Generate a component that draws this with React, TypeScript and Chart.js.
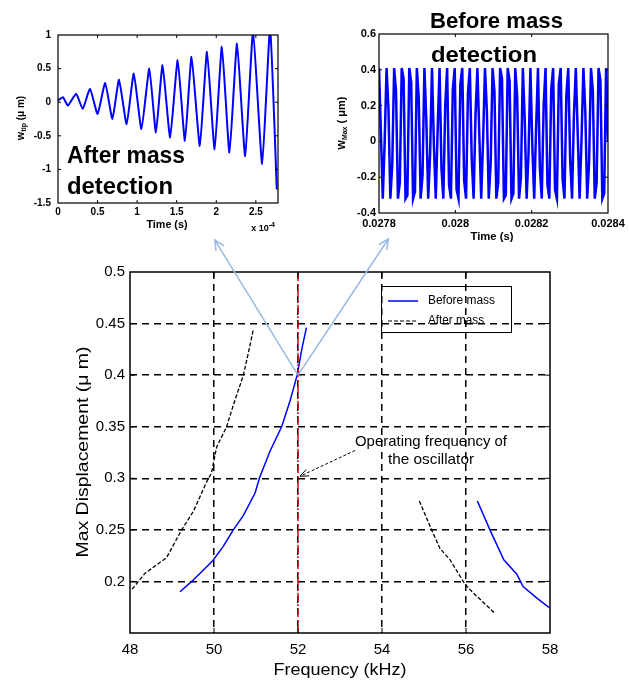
import React, { useEffect, useRef } from 'react';
import { Chart, registerables } from 'chart.js';

Chart.register(...registerables);

const FONT = '"Liberation Sans", Arial, sans-serif';

// ---------------- Main chart: Max displacement vs frequency ----------------
const FREQ_TICKS = [48, 50, 52, 54, 56, 58];
const FREQ_TICK_LABELS = ['48', '50', '52', '54', '56', '58'];
const DISP_TICKS = [0.15, 0.2, 0.25, 0.3, 0.35, 0.4, 0.45, 0.5];
const DISP_TICK_LABELS = ['', '0.2', '0.25', '0.3', '0.35', '0.4', '0.45', '0.5'];

const BEFORE_LEFT_FREQ = [49.19, 49.47, 49.97, 50.22, 50.46, 50.7, 50.98, 51.08, 51.33, 51.61, 51.81, 51.98, 52.09, 52.2];
const BEFORE_LEFT_DISP = [0.19, 0.2, 0.22, 0.234, 0.25, 0.264, 0.286, 0.3, 0.326, 0.35, 0.375, 0.4, 0.425, 0.446];
const BEFORE_RIGHT_FREQ = [56.27, 56.57, 56.9, 57.21, 57.36, 57.68, 58.0];
const BEFORE_RIGHT_DISP = [0.278, 0.25, 0.221, 0.207, 0.195, 0.184, 0.174];

const AFTER_LEFT_FREQ = [48.05, 48.36, 48.87, 49.23, 49.51, 49.83, 49.94, 50.06, 50.3, 50.46, 50.7, 50.82, 50.94];
const AFTER_LEFT_DISP = [0.1925, 0.208, 0.223, 0.25, 0.268, 0.297, 0.305, 0.33, 0.35, 0.371, 0.4, 0.422, 0.445];
const AFTER_RIGHT_FREQ = [54.89, 55.18, 55.38, 55.62, 55.98, 56.17, 56.69];
const AFTER_RIGHT_DISP = [0.278, 0.25, 0.232, 0.221, 0.197, 0.189, 0.169];

const OPERATING_FREQ = [52, 52];
const OPERATING_DISP = [0.15, 0.5];

const SERIES_NAMES = ['Before mass', 'After mass'];
const NOTE_LINES = ['Operating frequency of', 'the oscillator'];
const NOTE_ARROW_FROM = { x: 53.36, y: 0.327 };
const NOTE_ARROW_TO = { x: 52.05, y: 0.302 };
const CALLOUT_ORIGIN = { x: 52, y: 0.4 };
const CALLOUT_LEFT = { x: 50.02, y: 0.531 };
const CALLOUT_RIGHT = { x: 54.15, y: 0.532 };

// ---------------- Left inset: after mass detection ----------------
const LEFT_TIME = [0, 0.0625, 0.125, 0.229, 0.3125, 0.404, 0.5, 0.596, 0.6875, 0.771, 0.867, 0.958, 1.054, 1.154, 1.2375, 1.321, 1.417, 1.5125, 1.604, 1.6875, 1.792, 1.883, 1.979, 2.071, 2.167, 2.2625, 2.365, 2.465, 2.58, 2.68, 2.765];
const LEFT_W = [0.025, 0.075, -0.05, 0.125, -0.1, 0.2, -0.175, 0.285, -0.25, 0.335, -0.325, 0.425, -0.4, 0.5, -0.45, 0.55, -0.525, 0.625, -0.575, 0.675, -0.65, 0.75, -0.7, 0.825, -0.75, 0.875, -0.8, 1.05, -0.92, 1.1, -1.3];
const LEFT_X_TICKS = [0, 0.5, 1, 1.5, 2, 2.5];
const LEFT_X_LABELS = ['0', '0.5', '1', '1.5', '2', '2.5'];
const LEFT_Y_TICKS = [-1.5, -1, -0.5, 0, 0.5, 1];
const LEFT_Y_LABELS = ['-1.5', '-1', '-0.5', '0', '0.5', '1'];

// ---------------- Right inset: before mass detection ----------------
const RIGHT_T_START = 0.0278;
const RIGHT_T_END = 0.0284;
const RIGHT_W = [
  0.41, 0.05, -0.32, 0.0,
  0.41, 0.18, -0.32, -0.13,
  0.41, 0.28, -0.32, -0.23,
  0.41, 0.35, -0.32, -0.3,
  0.41, 0.33, -0.32, -0.28,
  0.41, 0.24, -0.32, -0.19,
  0.41, 0.12, -0.32, -0.07,
  0.41, -0.02, -0.32, 0.07,
  0.41, -0.15, -0.32, 0.2,
  0.41, -0.24, -0.32, 0.29,
  0.41, -0.27, -0.32, 0.32,
  0.41, -0.22, -0.32, 0.27,
  0.41, -0.1, -0.32, 0.15,
  0.41, 0.04, -0.32, 0.01,
  0.41, 0.17, -0.32, -0.12,
  0.41, 0.28, -0.32, -0.23,
  0.41, 0.35, -0.32, -0.3,
  0.41, 0.34, -0.32, -0.29,
  0.41, 0.25, -0.32, -0.2,
  0.41, 0.12, -0.32, -0.07,
  0.41, -0.02, -0.32, 0.07,
  0.41, -0.15, -0.32, 0.2,
  0.41, -0.24, -0.32, 0.29,
  0.41, -0.27, -0.32, 0.32,
  0.41, -0.21, -0.32, 0.26,
  0.41, -0.1, -0.32, 0.15,
  0.41, 0.04, -0.32, 0.01,
  0.41, 0.17, -0.32, -0.12,
  0.41, 0.28, -0.32, -0.23,
  0.41, 0.34, -0.32, -0.29,
  0.41, 0.0,
];
const RIGHT_X_TICKS = [0.0278, 0.028, 0.0282, 0.0284];
const RIGHT_X_LABELS = ['0.0278', '0.028', '0.0282', '0.0284'];
const RIGHT_Y_TICKS = [-0.4, -0.2, 0, 0.2, 0.4, 0.6];
const RIGHT_Y_LABELS = ['-0.4', '-0.2', '0', '0.2', '0.4', '0.6'];

// ---------------- helpers ----------------
function pts(xs: number[], ys: number[]) {
  return xs.map((x, i) => ({ x, y: ys[i] }));
}

function drawText(ctx: CanvasRenderingContext2D, text: string, x: number, y: number, font: string,
  opts: { width?: number; align?: CanvasTextAlign; baseline?: CanvasTextBaseline; rotate?: number; color?: string } = {}) {
  ctx.save();
  ctx.font = font;
  ctx.fillStyle = opts.color ?? '#000';
  ctx.textAlign = opts.align ?? 'left';
  ctx.textBaseline = opts.baseline ?? 'middle';
  ctx.translate(x, y);
  if (opts.rotate) ctx.rotate(opts.rotate);
  if (opts.width) {
    const w = ctx.measureText(text).width;
    ctx.scale(opts.width / w, 1);
  }
  ctx.fillText(text, 0, 0);
  ctx.restore();
}

function drawRich(ctx: CanvasRenderingContext2D, parts: [string, number, number][], cx: number, cy: number, rotate: number) {
  ctx.save();
  ctx.translate(cx, cy);
  if (rotate) ctx.rotate(rotate);
  ctx.fillStyle = '#000';
  ctx.textBaseline = 'middle';
  ctx.textAlign = 'left';
  let total = 0;
  parts.forEach(([t, size]) => { ctx.font = `bold ${size}px ${FONT}`; total += ctx.measureText(t).width; });
  let x = -total / 2;
  parts.forEach(([t, size, dy]) => {
    ctx.font = `bold ${size}px ${FONT}`;
    ctx.fillText(t, x, dy);
    x += ctx.measureText(t).width;
  });
  ctx.restore();
}

function arrow(ctx: CanvasRenderingContext2D, x1: number, y1: number, x2: number, y2: number, len: number, ang: number) {
  ctx.beginPath();
  ctx.moveTo(x1, y1);
  ctx.lineTo(x2, y2);
  ctx.stroke();
  const a = Math.atan2(y2 - y1, x2 - x1);
  ctx.setLineDash([]);
  ctx.beginPath();
  ctx.moveTo(x2 - len * Math.cos(a - ang), y2 - len * Math.sin(a - ang));
  ctx.lineTo(x2, y2);
  ctx.lineTo(x2 - len * Math.cos(a + ang), y2 - len * Math.sin(a + ang));
  ctx.stroke();
}

function framePlugin(id: string, tickLen: number, lineWidth: number) {
  return {
    id,
    afterDatasetsDraw(chart: any) {
      const { ctx, chartArea: a, scales } = chart;
      ctx.save();
      ctx.strokeStyle = '#000';
      ctx.lineWidth = lineWidth;
      ctx.setLineDash([]);
      ctx.strokeRect(a.left, a.top, a.right - a.left, a.bottom - a.top);
      ctx.lineWidth = 1;
      ctx.beginPath();
      scales.x.ticks.forEach((t: any) => {
        const px = scales.x.getPixelForValue(t.value);
        if (px <= a.left + 1 || px >= a.right - 1) return;
        ctx.moveTo(px, a.bottom); ctx.lineTo(px, a.bottom - tickLen);
        ctx.moveTo(px, a.top); ctx.lineTo(px, a.top + tickLen);
      });
      scales.y.ticks.forEach((t: any) => {
        const py = scales.y.getPixelForValue(t.value);
        if (py <= a.top + 1 || py >= a.bottom - 1) return;
        ctx.moveTo(a.left, py); ctx.lineTo(a.left + tickLen, py);
        ctx.moveTo(a.right, py); ctx.lineTo(a.right - tickLen, py);
      });
      ctx.stroke();
      ctx.restore();
    },
  };
}

function setTicks(values: number[]) {
  return (axis: any) => { axis.ticks = values.map((v) => ({ value: v })); };
}

// ---------------- configs ----------------
function mainConfig(): any {
  const lineStyle = { pointRadius: 0, tension: 0, fill: false };
  const overlay = {
    id: 'mainOverlay',
    afterDraw(chart: any) {
      const { ctx, scales: { x, y } } = chart;
      const px = (p: { x: number; y: number }) => [x.getPixelForValue(p.x), y.getPixelForValue(p.y)];
      // legend
      ctx.save();
      ctx.strokeStyle = '#000';
      ctx.lineWidth = 1;
      ctx.strokeRect(381.5, 286.5, 130, 46);
      ctx.strokeStyle = '#0000ff';
      ctx.lineWidth = 1.5;
      ctx.beginPath(); ctx.moveTo(388, 301); ctx.lineTo(418, 301); ctx.stroke();
      ctx.strokeStyle = '#000';
      ctx.lineWidth = 1.2;
      ctx.setLineDash([4, 2]);
      ctx.beginPath(); ctx.moveTo(388, 321); ctx.lineTo(418, 321); ctx.stroke();
      ctx.restore();
      drawText(ctx, SERIES_NAMES[0], 428, 301, `12px ${FONT}`, { width: 67 });
      drawText(ctx, SERIES_NAMES[1], 428, 321, `12px ${FONT}`, { width: 56 });
      // note
      drawText(ctx, NOTE_LINES[0], 431, 442, `15px ${FONT}`, { width: 152, align: 'center' });
      drawText(ctx, NOTE_LINES[1], 431, 460, `15px ${FONT}`, { width: 86, align: 'center' });
      ctx.save();
      ctx.strokeStyle = '#000';
      ctx.lineWidth = 1;
      ctx.setLineDash([3, 2]);
      const [ax1, ay1] = px(NOTE_ARROW_FROM);
      const [ax2, ay2] = px(NOTE_ARROW_TO);
      arrow(ctx, ax1, ay1, ax2, ay2, 9, 0.4);
      ctx.restore();
      // callout arrows to insets
      ctx.save();
      ctx.strokeStyle = '#98b9e3';
      ctx.lineWidth = 1.5;
      const [ox, oy] = px(CALLOUT_ORIGIN);
      const [lx, ly] = px(CALLOUT_LEFT);
      const [rx, ry] = px(CALLOUT_RIGHT);
      arrow(ctx, ox, oy, lx, ly, 11, 0.45);
      arrow(ctx, ox, oy, rx, ry, 11, 0.45);
      ctx.restore();
      // axis titles
      drawText(ctx, 'Max Displacement (μ m)', 83, 452, `17px ${FONT}`, { width: 211, align: 'center', rotate: -Math.PI / 2 });
      drawText(ctx, 'Frequency (kHz)', 340, 670, `17px ${FONT}`, { width: 133, align: 'center' });
    },
  };
  const gridColor = (lo: number, hi: number) => (c: any) =>
    c.tick && (c.tick.value <= lo + 1e-6 || c.tick.value >= hi - 1e-6) ? 'rgba(0,0,0,0)' : '#000';
  return {
    type: 'line',
    data: {
      datasets: [
        { data: pts(OPERATING_FREQ, OPERATING_DISP), borderColor: '#e00000', borderWidth: 1.5, borderDash: [8, 3, 2, 3], ...lineStyle },
        { data: pts(BEFORE_LEFT_FREQ, BEFORE_LEFT_DISP), borderColor: '#0000ff', borderWidth: 1.5, ...lineStyle },
        { data: pts(BEFORE_RIGHT_FREQ, BEFORE_RIGHT_DISP), borderColor: '#0000ff', borderWidth: 1.5, ...lineStyle },
        { data: pts(AFTER_LEFT_FREQ, AFTER_LEFT_DISP), borderColor: '#000', borderWidth: 1.3, borderDash: [4, 2], ...lineStyle },
        { data: pts(AFTER_RIGHT_FREQ, AFTER_RIGHT_DISP), borderColor: '#000', borderWidth: 1.3, borderDash: [4, 2], ...lineStyle },
      ],
    },
    options: {
      animation: false,
      responsive: false,
      devicePixelRatio: 1,
      layout: { padding: { left: 0, top: 272, right: 79, bottom: 0 } },
      plugins: { legend: { display: false }, tooltip: { enabled: false }, title: { display: false } },
      scales: {
        x: {
          type: 'linear', min: 48, max: 58,
          afterBuildTicks: setTicks(FREQ_TICKS),
          afterFit: (a: any) => { a.height = 48; },
          ticks: { callback: (_v: any, i: number) => FREQ_TICK_LABELS[i], font: { family: FONT, size: 15 }, color: '#000', padding: 8, maxRotation: 0, autoSkip: false },
          grid: { color: gridColor(48, 58), lineWidth: 1.5, drawTicks: false },
          border: { display: false, dash: [7, 5] },
        },
        y: {
          type: 'linear', min: 0.15, max: 0.5,
          afterBuildTicks: setTicks(DISP_TICKS),
          afterFit: (a: any) => { a.width = 130; },
          ticks: { callback: (_v: any, i: number) => DISP_TICK_LABELS[i], font: { family: FONT, size: 15 }, color: '#000', padding: 5, autoSkip: false },
          grid: { color: gridColor(0.15, 0.5), lineWidth: 1.5, drawTicks: false },
          border: { display: false, dash: [7, 5] },
        },
      },
    },
    plugins: [framePlugin('mainFrame', 5, 1.5), overlay],
  };
}

function insetAxes(xMin: number, xMax: number, xTicks: number[], xLabels: string[], yMin: number, yMax: number,
  yTicks: number[], yLabels: string[], yWidth: number, xHeight: number, size: number, xPad: number, yPad: number) {
  const font = { family: FONT, size, weight: 'bold' as const };
  return {
    x: {
      type: 'linear', min: xMin, max: xMax,
      afterBuildTicks: setTicks(xTicks),
      afterFit: (a: any) => { a.height = xHeight; },
      ticks: { callback: (_v: any, i: number) => xLabels[i], font, color: '#000', padding: xPad, maxRotation: 0, autoSkip: false },
      grid: { display: false, drawTicks: false },
      border: { display: false },
    },
    y: {
      type: 'linear', min: yMin, max: yMax,
      afterBuildTicks: setTicks(yTicks),
      afterFit: (a: any) => { a.width = yWidth; },
      ticks: { callback: (_v: any, i: number) => yLabels[i], font, color: '#000', padding: yPad, autoSkip: false },
      grid: { display: false, drawTicks: false },
      border: { display: false },
    },
  };
}

function leftConfig(): any {
  const overlay = {
    id: 'leftOverlay',
    afterDraw(chart: any) {
      const { ctx } = chart;
      drawText(ctx, 'After mass', 67, 163, `bold 24px ${FONT}`, { width: 118, baseline: 'alphabetic' });
      drawText(ctx, 'detection', 67, 194, `bold 24px ${FONT}`, { width: 106, baseline: 'alphabetic' });
      drawText(ctx, 'Time (s)', 167, 225, `bold 10px ${FONT}`, { width: 41, align: 'center' });
      drawRich(ctx, [['x 10', 9, 0], ['-4', 7, -4]], 263, 229, 0);
      drawRich(ctx, [['w', 11, 0], ['tip', 7, 3], [' (μ m)', 10, 0]], 21, 118, -Math.PI / 2);
    },
  };
  return {
    type: 'line',
    data: {
      datasets: [
        { data: pts(LEFT_TIME, LEFT_W), borderColor: '#0000ff', borderWidth: 2, pointRadius: 0, tension: 0.15, fill: false },
      ],
    },
    options: {
      animation: false,
      responsive: false,
      devicePixelRatio: 1,
      layout: { padding: { left: 0, top: 35, right: 32, bottom: 0 } },
      plugins: { legend: { display: false }, tooltip: { enabled: false } },
      scales: insetAxes(0, 2.78, LEFT_X_TICKS, LEFT_X_LABELS, -1.5, 1, LEFT_Y_TICKS, LEFT_Y_LABELS, 58, 42, 10, 3, 7),
    },
    plugins: [framePlugin('leftFrame', 3, 1.2), overlay],
  };
}

function rightConfig(): any {
  const n = RIGHT_W.length;
  const times = RIGHT_W.map((_w, i) => RIGHT_T_START + (i * (RIGHT_T_END - RIGHT_T_START)) / (n - 1));
  const overlay = {
    id: 'rightOverlay',
    afterDraw(chart: any) {
      const { ctx } = chart;
      drawText(ctx, 'Before mass', 120, 28, `bold 22px ${FONT}`, { width: 133, baseline: 'alphabetic' });
      drawText(ctx, 'detection', 121, 61.5, `bold 22px ${FONT}`, { width: 106, baseline: 'alphabetic' });
      drawText(ctx, 'Time (s)', 182, 237, `bold 11px ${FONT}`, { width: 43, align: 'center' });
      drawRich(ctx, [['w', 12, 0], ['Max', 7, 3], [' ( μm)', 11, 0]], 32, 123, -Math.PI / 2);
    },
  };
  return {
    type: 'line',
    data: {
      datasets: [
        { data: pts(times, RIGHT_W), borderColor: '#0000ff', borderWidth: 2.5, pointRadius: 0, tension: 0, fill: false },
      ],
    },
    options: {
      animation: false,
      responsive: false,
      devicePixelRatio: 1,
      layout: { padding: { left: 0, top: 34, right: 21, bottom: 0 } },
      plugins: { legend: { display: false }, tooltip: { enabled: false } },
      scales: insetAxes(RIGHT_T_START, RIGHT_T_END, RIGHT_X_TICKS, RIGHT_X_LABELS, -0.4, 0.6, RIGHT_Y_TICKS, RIGHT_Y_LABELS, 69, 32, 11, 4, 3),
    },
    plugins: [framePlugin('rightFrame', 3, 1.2), overlay],
  };
}

export default function App() {
  const mainRef = useRef<HTMLCanvasElement>(null);
  const leftRef = useRef<HTMLCanvasElement>(null);
  const rightRef = useRef<HTMLCanvasElement>(null);

  useEffect(() => {
    const charts = [
      new Chart(mainRef.current as HTMLCanvasElement, mainConfig()),
      new Chart(leftRef.current as HTMLCanvasElement, leftConfig()),
      new Chart(rightRef.current as HTMLCanvasElement, rightConfig()),
    ];
    return () => charts.forEach((c) => c.destroy());
  }, []);

  return (
    <div style={{ position: 'fixed', left: 0, top: 0, width: 629, height: 681, background: '#fff', overflow: 'hidden' }}>
      <canvas ref={mainRef} width={629} height={681} style={{ position: 'absolute', left: 0, top: 0, width: 629, height: 681 }} />
      <canvas ref={leftRef} width={310} height={245} style={{ position: 'absolute', left: 0, top: 0, width: 310, height: 245 }} />
      <canvas ref={rightRef} width={319} height={245} style={{ position: 'absolute', left: 310, top: 0, width: 319, height: 245 }} />
    </div>
  );
}
